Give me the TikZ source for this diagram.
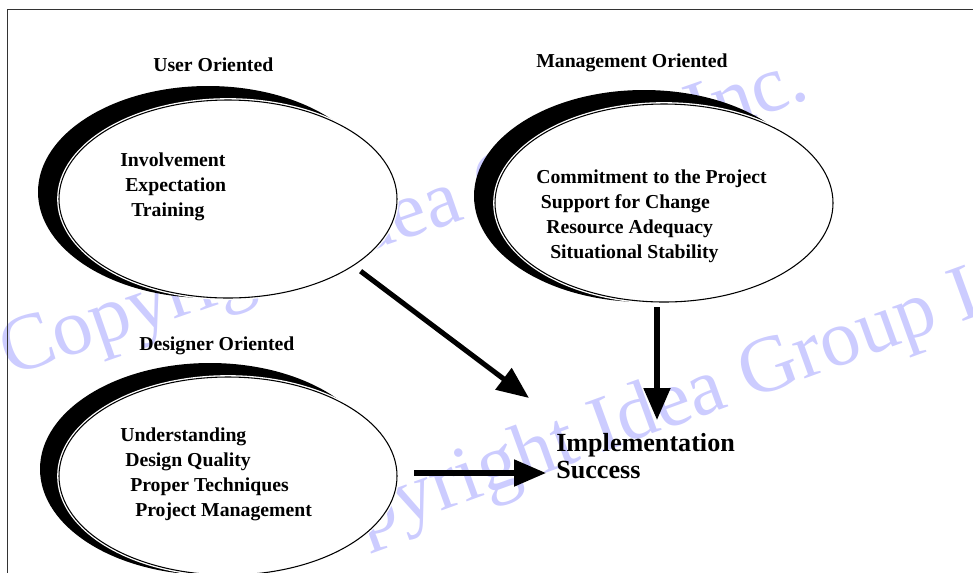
\documentclass[tikz,border=0pt]{standalone}
\usepackage{fontspec}
\setmainfont{Liberation Serif}
\usetikzlibrary{shapes.geometric,arrows.meta}
\definecolor{wmark}{RGB}{204,204,255}

\begin{document}
\begin{tikzpicture}[x=0.75pt,y=-0.75pt,
    wm/.style={font=\fontsize{60}{61}\selectfont,text=wmark,anchor=base west,inner sep=0pt},
    rim/.style={ellipse,inner sep=0pt,outer sep=0pt,fill=black,minimum width=255pt,minimum height=159pt},
    blob/.style={ellipse,inner sep=0pt,outer sep=0pt,fill=white,draw=black,line width=0.8pt,
        preaction={draw=white,line width=2.8pt},minimum width=253.5pt,minimum height=148.5pt},
    head/.style={font=\fontsize{14.8}{18.6}\selectfont\bfseries,anchor=base west,inner sep=0pt},
    items/.style={font=\fontsize{14.8}{18.6}\selectfont\bfseries,anchor=base west,inner sep=0pt,align=left},
    flow/.style={line width=3.8pt,-{Triangle[length=24pt,width=19.5pt]}}
  ]
  \clip (0,0) rectangle (973,572);
  % watermark behind everything
  \node[wm,rotate=19.2] (wm1) at (10,377) {Copyright Idea Group Inc.};
  \node[wm,rotate=20]   (wm2) at (277,571) {Copyright Idea Group Inc.};
  \draw[black!80,line width=0.75pt] (7,600) |- (990,9);

  % the three groups
  \node[rim]  (user-rim) at (208,192) {};
  \node[blob] (user)     at (228,199) {};
  \node[rim]  (mgmt-rim) at (644,196) {};
  \node[blob] (mgmt)     at (664,203) {};
  \node[rim]  (design-rim) at (210,469) {};
  \node[blob] (design)     at (228,476) {};

  \node[head] (user-head)   at (153,71)  {User Oriented};
  \node[head] (mgmt-head)   at (536,67)  {Management Oriented};
  \node[head] (design-head) at (139,350) {Designer Oriented};

  % base of a list is its last line
  \node[items] (user-list) at (120,216)
    {Involvement\\\hspace{3.75pt}Expectation\\\hspace{8.25pt}Training};
  \node[items] (mgmt-list) at (536,258)
    {Commitment to the Project\\\hspace{3.5pt}Support for Change\\\hspace{7.5pt}Resource Adequacy\\\hspace{10.5pt}Situational Stability};
  \node[items] (design-list) at (120,516)
    {Understanding\\\hspace{3.75pt}Design Quality\\\hspace{7.5pt}Proper Techniques\\\hspace{11.25pt}Project Management};

  \node[items,font=\fontsize{19.6}{20.25}\selectfont\bfseries] (impl) at (556,478)
    {Implementation\\Success};

  % arrows into the result
  \coordinate (tip-user)   at (529,398);
  \coordinate (tip-mgmt)   at (657,420);
  \coordinate (tip-design) at (546,473);
  \draw[flow,shorten <=7pt]    (user.-28) -- (tip-user);
  \draw[flow,shorten <=4pt]    (mgmt.south -| tip-mgmt) -- (tip-mgmt);
  \draw[flow,shorten <=12.75pt] (design.east |- tip-design) -- (tip-design);
\end{tikzpicture}
\end{document}
